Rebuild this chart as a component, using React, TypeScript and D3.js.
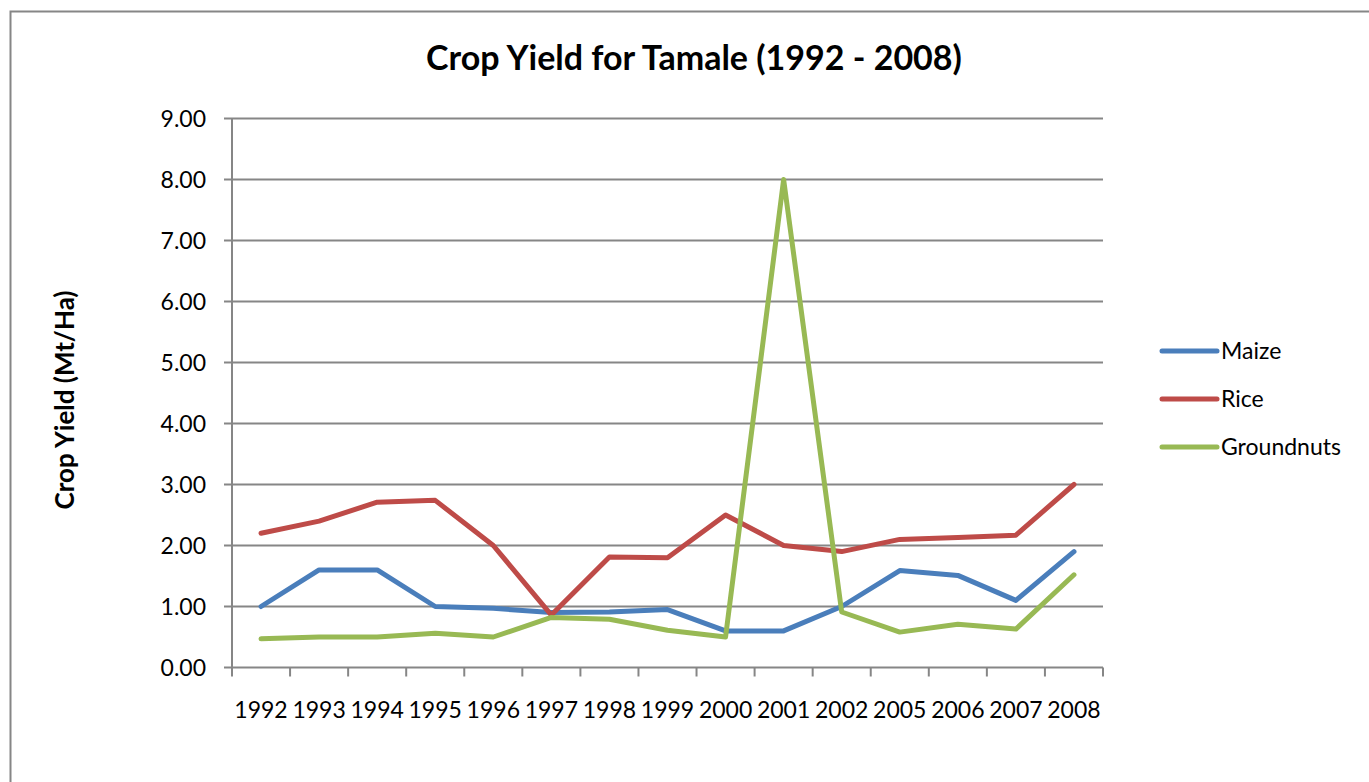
import React from "react";
import * as d3 from "d3";

const years = ["1992", "1993", "1994", "1995", "1996", "1997", "1998", "1999", "2000", "2001", "2002", "2005", "2006", "2007", "2008"];
const maize = [1.0, 1.6, 1.6, 1.0, 0.97, 0.9, 0.91, 0.95, 0.6, 0.6, 1.0, 1.59, 1.51, 1.1, 1.9];
const rice = [2.2, 2.4, 2.71, 2.74, 2.0, 0.86, 1.81, 1.8, 2.5, 2.0, 1.9, 2.1, 2.13, 2.17, 3.0];
const groundnuts = [0.47, 0.5, 0.5, 0.56, 0.5, 0.82, 0.79, 0.61, 0.5, 8.0, 0.91, 0.58, 0.71, 0.63, 1.52];
const yTicks = [0, 1, 2, 3, 4, 5, 6, 7, 8, 9];

const seriesList = [
    { name: "Maize", values: maize, color: "#4A7EBB" },
    { name: "Rice", values: rice, color: "#BE4B48" },
    { name: "Groundnuts", values: groundnuts, color: "#98B954" },
];

const W = 1369;
const H = 782;
const left = 232, right = 1103, top = 118.5, bottom = 667.5;
const font = "Lato, 'Open Sans', sans-serif";
const grey = "#868686";

const App = () => {
    const x = d3.scaleBand().domain(years).range([left, right]).padding(0);
    const y = d3.scaleLinear().domain([0, 9]).range([bottom, top]);
    const fmt = d3.format(".2f");
    const line = d3.line<number>()
        .x((d, i) => (x(years[i]) ?? 0) + x.bandwidth() / 2)
        .y(d => y(d));
    const bounds = years.map(c => x(c) ?? 0).concat([right]);

    return (
        <svg width={W} height={H} style={{ position: "absolute", left: 0, top: 0, background: "#fff" }}>
            <rect x={10.5} y={11.5} width={1400} height={800} fill="#fff" stroke={grey} strokeWidth={2} />
            <text x={694} y={70} textAnchor="middle" fontFamily={font} fontWeight="bold" fontSize={34}>
                Crop Yield for Tamale (1992 - 2008)
            </text>
            <text transform={`translate(74,400) rotate(-90)`} textAnchor="middle" fontFamily={font} fontWeight="bold" fontSize={26}>
                Crop Yield (Mt/Ha)
            </text>
            {/* gridlines + y ticks */}
            {yTicks.map(t => (
                <g key={t}>
                    <line x1={224} x2={right} y1={y(t)} y2={y(t)} stroke={grey} strokeWidth={2} />
                    <text x={206} y={y(t)} dy="0.35em" textAnchor="end" fontFamily={font} fontSize={23}>{fmt(t)}</text>
                </g>
            ))}
            <line x1={left} x2={left} y1={top} y2={bottom} stroke={grey} strokeWidth={2} />
            {/* x ticks */}
            {bounds.map((b, i) => (
                <line key={i} x1={b} x2={b} y1={bottom} y2={bottom + 9} stroke={grey} strokeWidth={2} />
            ))}
            {years.map(c => (
                <text key={c} x={(x(c) ?? 0) + x.bandwidth() / 2} y={718} textAnchor="middle" fontFamily={font} fontSize={23}>{c}</text>
            ))}
            {seriesList.map(s => (
                <path key={s.name} d={line(s.values) ?? ""} fill="none" stroke={s.color} strokeWidth={5} strokeLinejoin="round" strokeLinecap="round" />
            ))}
            {/* legend */}
            {seriesList.map((s, i) => (
                <g key={s.name} transform={`translate(1162,${351 + i * 48})`}>
                    <line x1={0} x2={55} y1={0} y2={0} stroke={s.color} strokeWidth={5} strokeLinecap="round" />
                    <text x={59} y={0} dy="0.35em" fontFamily={font} fontSize={23}>{s.name}</text>
                </g>
            ))}
        </svg>
    );
};

export default App;
